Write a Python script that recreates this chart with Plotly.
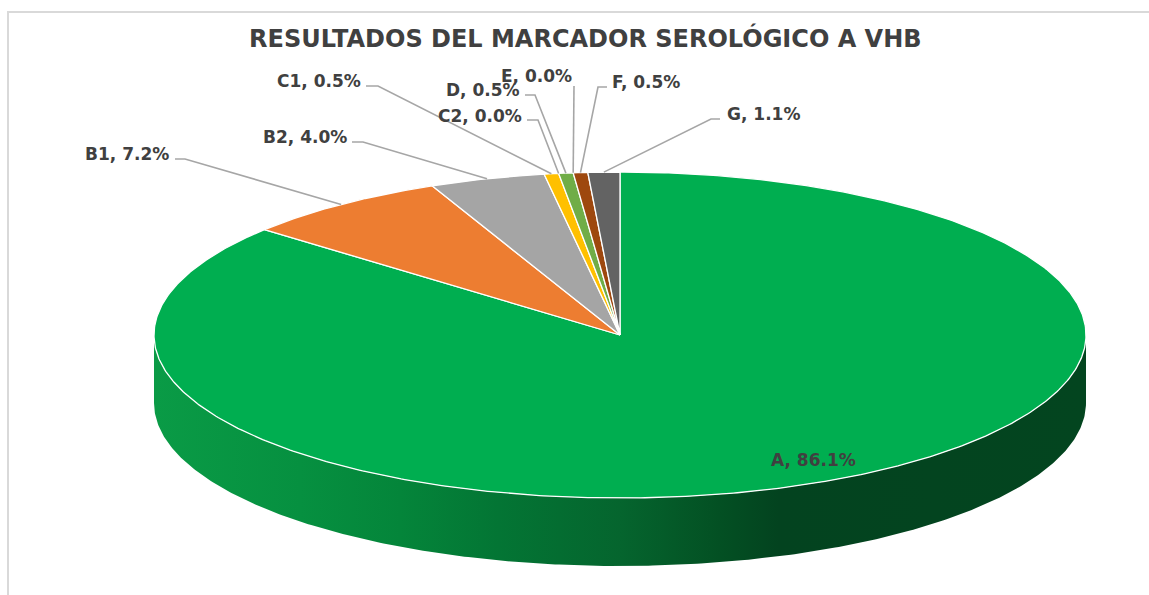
import numpy as np
import plotly.graph_objects as go

# ---- data ----
categories = ["A", "B1", "B2", "C1", "C2", "D", "E", "F", "G"]
percent_values = [86.1, 7.2, 4.0, 0.5, 0.0, 0.5, 0.0, 0.5, 1.1]
slice_colors = ["#00AE50", "#ED7D31", "#A5A5A5", "#FFC000", "#4472C4",
                "#70AD47", "#255E91", "#9E480E", "#636363"]
title_text = "RESULTADOS DEL MARCADOR SEROLÓGICO A VHB"

# ---- pie geometry, in page pixels ----
CX, CY, RX, RY, DEPTH = 620.0, 335.0, 466.0, 163.0, 68.0

# label centre for each category (layout only)
label_pos = {
    "A": (813, 460), "B1": (127, 154), "B2": (305, 137), "C1": (319, 81),
    "C2": (480, 116), "D": (483, 90), "E": (536, 76), "F": (646, 82), "G": (763, 114),
}
# leader layout: stub start x, elbow x, elbow y
leader_layout = {
    "B1": (175, 185, 159), "B2": (352, 363, 142), "C1": (366, 378, 86),
    "C2": (527, 538, 120), "D": (525, 535, 95), "E": (574, 574, 86),
    "F": (607, 598, 87), "G": (720, 711, 119),
}
side_scale = [
    [0.00, "#0A9B46"], [0.157, "#069040"], [0.264, "#04853A"], [0.37, "#037534"],
    [0.50, "#05652E"], [0.607, "#035023"], [0.67, "#03431F"], [1.00, "#03451F"],
]


def rim(angle_deg, dy=0.0):
    t = np.radians(np.asarray(angle_deg, dtype=float))
    return CX + RX * np.sin(t), CY - RY * np.cos(t) + dy


fig = go.Figure()

# front wall of the disc (only the big slice shows here)
ang = np.linspace(90, 270, 361)
xt, yt = rim(ang)
xb, yb = rim(ang[::-1], DEPTH)
fig.add_trace(go.Scatter(
    x=np.concatenate([xt, xb]), y=np.concatenate([yt, yb]),
    mode="lines", line=dict(width=0), fill="toself",
    fillgradient=dict(type="horizontal", colorscale=side_scale),
    hoverinfo="skip", showlegend=False,
))

# top face: slices run clockwise from 12 o'clock
total = sum(percent_values)
edges = np.cumsum([0.0] + percent_values) / total * 360.0
for name, v, a0, a1, col in zip(categories, percent_values, edges[:-1], edges[1:], slice_colors):
    if v <= 0:
        continue
    arc = np.linspace(a0, a1, max(4, int((a1 - a0) * 2)))
    xa, ya = rim(arc)
    fig.add_trace(go.Scatter(
        x=np.concatenate([[CX], xa, [CX]]), y=np.concatenate([[CY], ya, [CY]]),
        mode="lines", line=dict(color="#FFFFFF", width=1.3), fill="toself",
        fillcolor=col, name=name, hoverinfo="name", showlegend=False,
    ))

# leader lines from each slice's rim midpoint through the elbow to the label
for name, a0, a1 in zip(categories, edges[:-1], edges[1:]):
    if name not in leader_layout:
        continue
    mx, my = rim((a0 + a1) / 2)
    sx, ex, ey = leader_layout[name]
    fig.add_trace(go.Scatter(
        x=[float(mx), ex, sx], y=[float(my), ey, ey], mode="lines",
        line=dict(color="#A6A6A6", width=1.6),
        hoverinfo="skip", showlegend=False,
    ))

# data labels
annotations = []
for name, v in zip(categories, percent_values):
    lx, ly = label_pos[name]
    annotations.append(dict(
        x=lx, y=ly, xref="x", yref="y", text=f"<b>{name}, {v:.1f}%</b>",
        showarrow=False, xanchor="center", yanchor="middle",
        font=dict(family="DejaVu Sans", size=17, color="#404040"),
    ))
annotations.append(dict(
    x=585, y=38, xref="x", yref="y", text=f"<b>{title_text}</b>",
    showarrow=False, xanchor="center", yanchor="middle",
    font=dict(family="DejaVu Sans", size=24, color="#404040"),
))

fig.update_layout(
    width=1149, height=595, autosize=False,
    margin=dict(l=0, r=0, t=0, b=0),
    paper_bgcolor="white", plot_bgcolor="white",
    annotations=annotations,
    xaxis=dict(range=[0, 1149], visible=False, fixedrange=True),
    yaxis=dict(range=[595, 0], visible=False, fixedrange=True),
    shapes=[dict(type="rect", xref="x", yref="y", x0=8, y0=12, x1=1160, y1=620,
                 line=dict(color="#D9D9D9", width=2), fillcolor="rgba(0,0,0,0)", layer="below")],
)

fig.write_html("out.html", config={"displayModeBar": False},
               post_script="document.body.style.margin='0';")
